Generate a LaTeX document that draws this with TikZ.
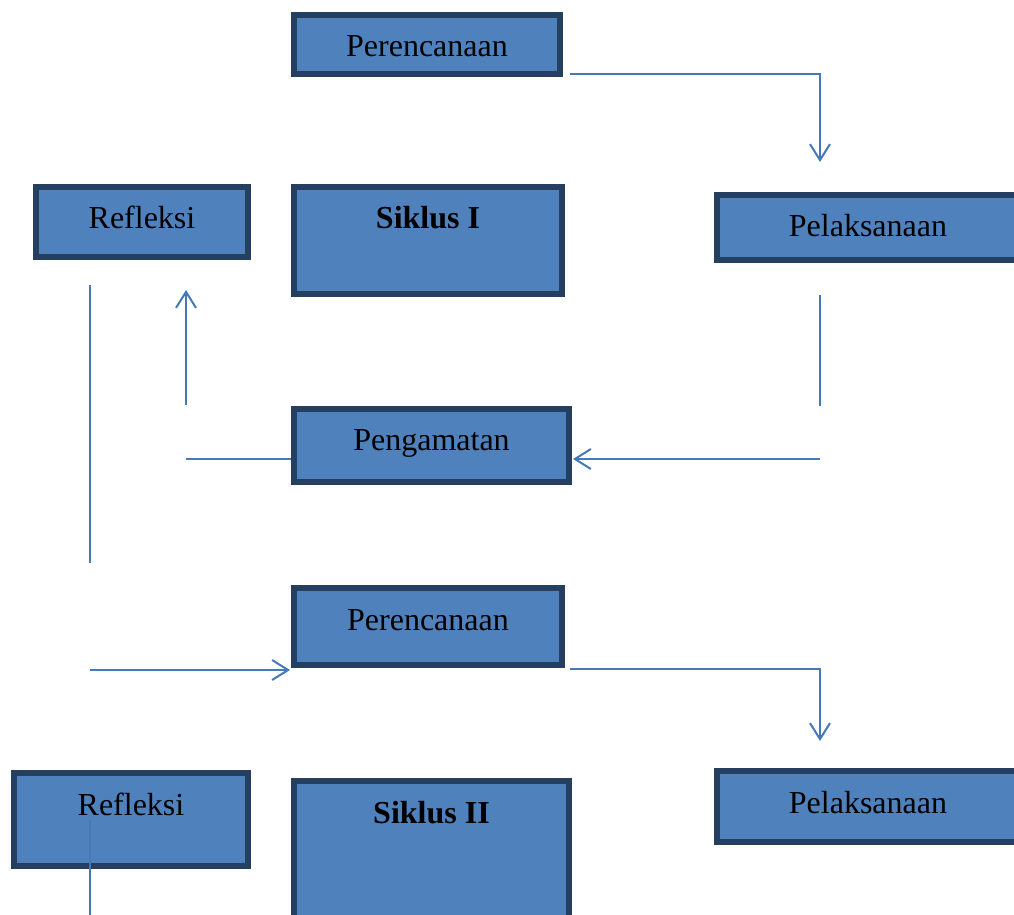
\documentclass[tikz,border=0pt]{standalone}
\usepackage{fontspec}
\setmainfont{Liberation Serif}
\usetikzlibrary{arrows.meta}
\definecolor{boxfill}{HTML}{4F81BD}
\definecolor{boxline}{HTML}{243F60}
\definecolor{linkline}{HTML}{4579B8}
\begin{document}
\begin{tikzpicture}[x=0.5pt,y=-0.5pt]
	\tikzstyle{box}=[draw=boxline, fill=boxfill, line width=3pt, inner sep=0pt, text height=21pt, font=\fontsize{16}{19}\selectfont]
	\tikzstyle{link}=[draw=linkline, line width=1pt]
	\tikzstyle{arrowed}=[-{Straight Barb[length=8pt,width=10pt]}]
	\useasboundingbox (0,0) rectangle (1014,915);
	\node [box, minimum width=133pt, text depth=8.5pt] (plan1) at (427,44.5) {Perencanaan};
	\node [box, minimum width=106pt, text depth=14pt] (refl1) at (142,222) {Refleksi};
	\node [box, minimum width=134pt, text depth=32.5pt] (cycle1) at (428,240.5) {\textbf{Siklus I}};
	\node [box, minimum width=151pt, text depth=11.5pt] (act1) at (868,227.5) {Pelaksanaan};
	\node [box, minimum width=137.5pt, text depth=15.5pt] (obs) at (431.5,445.5) {Pengamatan};
	\node [box, minimum width=134pt, text depth=17.5pt] (plan2) at (428,626.5) {Perencanaan};
	\node [box, minimum width=117pt, text depth=25.5pt] (refl2) at (131,819.5) {Refleksi};
	\node [box, minimum width=137.5pt, text depth=54.5pt] (cycle2) at (431.5,856.5) {\textbf{Siklus II}};
	\node [box, minimum width=151pt, text depth=14.5pt] (act2) at (868,806.5) {Pelaksanaan};
	\coordinate (plan1out) at (570,74);
	\coordinate (act1in) at (820,162);
	\coordinate (act1out) at (820,295);
	\coordinate (obsturn) at (820,406);
	\coordinate (obsin) at (820,459);
	\coordinate (obsout) at (186,459);
	\coordinate (refl1bot) at (186,405);
	\coordinate (refl1in) at (186,290);
	\coordinate (back1) at (90,285);
	\coordinate (back2) at (90,563);
	\coordinate (plan2in) at (90,670);
	\coordinate (plan2out) at (570,669);
	\coordinate (act2in) at (820,741);
	\coordinate (refl2top) at (90,820);
	\coordinate (refl2bot) at (90,930);
	\draw [link, arrowed] (plan1out) -| (act1in);
	\draw [link] (act1out) -- (obsturn);
	\draw [link, arrowed, shorten >=0.5pt] (obsin) -- (obsin -| obs.east);
	\draw [link] (obsout) -- (obsout -| obs.west);
	\draw [link, arrowed] (refl1bot) -- (refl1in);
	\draw [link] (back1) -- (back2);
	\draw [link, arrowed, shorten >=0.5pt] (plan2in) -- (plan2in -| plan2.west);
	\draw [link, arrowed] (plan2out) -| (act2in);
	\draw [link] (refl2top) -- (refl2bot);
\end{tikzpicture}
\end{document}
